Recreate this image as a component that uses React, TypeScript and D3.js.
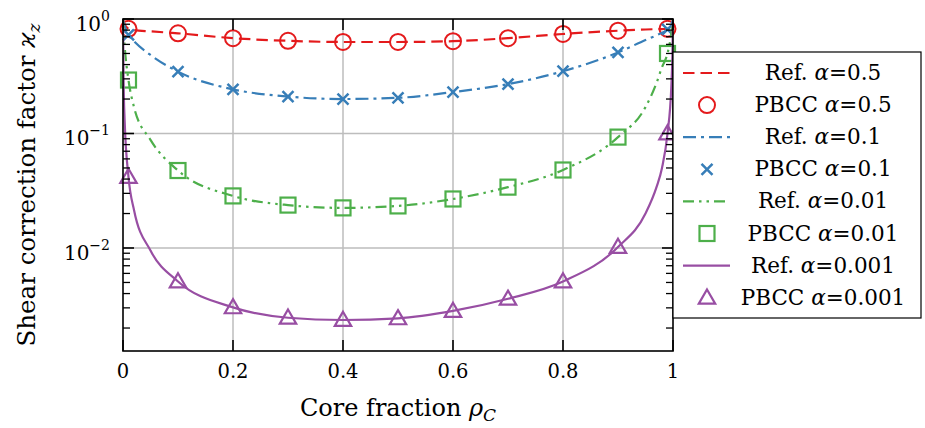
import React from 'react';
import * as d3 from 'd3';

// PBCC sample points
const rhoPts = [0.01, 0.1, 0.2, 0.3, 0.4, 0.5, 0.6, 0.7, 0.8, 0.9, 0.99];
const pbcc05 = [0.82, 0.75, 0.68, 0.645, 0.63, 0.63, 0.64, 0.68, 0.74, 0.79, 0.82];
const pbcc01 = [0.725, 0.347, 0.243, 0.21, 0.2, 0.205, 0.23, 0.27, 0.35, 0.51, 0.81];
const pbcc001 = [0.293, 0.0475, 0.0285, 0.0237, 0.0224, 0.0233, 0.0268, 0.034, 0.048, 0.093, 0.5];
const pbcc0001 = [0.0417, 0.0051, 0.00303, 0.00246, 0.00235, 0.00243, 0.00282, 0.0036, 0.0051, 0.0102, 0.1];

// reference curves
const rhoRef = [0, 0.001, 0.003, 0.01, 0.02, 0.05, 0.1, 0.2, 0.3, 0.4, 0.5, 0.6, 0.7, 0.8, 0.9, 0.95, 0.97, 0.98, 0.99, 0.997, 0.999, 1];
const ref05 = [1, 0.96, 0.9, 0.82, 0.8, 0.78, 0.75, 0.68, 0.645, 0.63, 0.63, 0.64, 0.68, 0.74, 0.79, 0.81, 0.815, 0.817, 0.82, 0.88, 0.94, 1];
const ref01 = [1, 0.94, 0.87, 0.725, 0.64, 0.485, 0.347, 0.243, 0.21, 0.2, 0.205, 0.23, 0.27, 0.35, 0.51, 0.655, 0.72, 0.76, 0.81, 0.9, 0.96, 1];
const ref001 = [1, 0.8, 0.58, 0.293, 0.17, 0.088, 0.0475, 0.0285, 0.0237, 0.0224, 0.0233, 0.0268, 0.034, 0.048, 0.093, 0.17, 0.276, 0.38, 0.5, 0.75, 0.9, 1];
const ref0001 = [1, 0.3, 0.13, 0.0417, 0.0215, 0.0095, 0.0051, 0.00303, 0.00246, 0.00235, 0.00243, 0.00282, 0.0036, 0.0051, 0.0102, 0.02, 0.034, 0.05, 0.1, 0.26, 0.5, 1];

const alphas = ['0.5', '0.1', '0.01', '0.001'];
const refSeries = [ref05, ref01, ref001, ref0001];
const pbccSeries = [pbcc05, pbcc01, pbcc001, pbcc0001];

const xTicks = [0, 0.2, 0.4, 0.6, 0.8, 1];
const xTickLabels = ['0', '0.2', '0.4', '0.6', '0.8', '1'];
const yTicks = [1, 0.1, 0.01];
const yTickExps = ['0', '\u22121', '\u22122'];

const colors = ['#e41a1c', '#377eb8', '#4daf4a', '#984ea3'];
const dashes = ['11.5,6', '13,5,3,5', '11,5,2.5,5,2.5,5', null];
const markers = ['circle', 'x', 'square', 'triangle'];

const W = 925, H = 428;
const left = 123, right = 673, top = 19, bottom = 351;
const font = "'DejaVu Serif', serif";

const Marker = ({ kind, cx, cy, color }) => {
    const sw = 2;
    if (kind === 'circle') return <circle cx={cx} cy={cy} r={8} fill="none" stroke={color} strokeWidth={sw} />;
    if (kind === 'x') {
        const s = 5.5;
        return <path d={`M${cx - s},${cy - s}L${cx + s},${cy + s}M${cx - s},${cy + s}L${cx + s},${cy - s}`} stroke={color} strokeWidth={2.5} />;
    }
    if (kind === 'square') return <rect x={cx - 7.5} y={cy - 7.5} width={15} height={15} fill="none" stroke={color} strokeWidth={2.2} />;
    const s = 8.2;
    return <path d={`M${cx},${cy - s}L${cx + s},${cy + s * 0.72}L${cx - s},${cy + s * 0.72}Z`} fill="none" stroke={color} strokeWidth={2.2} strokeLinejoin="miter" />;
};

export default function App() {
    const x = d3.scaleLinear().domain([0, 1]).range([left, right]);
    const y = d3.scaleLog().domain([0.00126, 1]).range([bottom, top]);

    const lineGen = d3.line<number>()
        .x((d, i) => x(rhoRef[i]))
        .y(d => y(d))
        .curve(d3.curveMonotoneX);

    const minor = y.ticks().filter(t => !yTicks.some(m => Math.abs(m - t) < 1e-9));

    const legendRows = [];
    alphas.forEach((a, i) => {
        legendRows.push({ type: 'ref', i, label: 'Ref.', a });
        legendRows.push({ type: 'pbcc', i, label: 'PBCC', a });
    });

    return (
        <svg width={W} height={H} style={{ position: 'absolute', left: 0, top: 0, background: 'white', fontFamily: font }}>
            <defs>
                <clipPath id="plotclip">
                    <rect x={left} y={top} width={right - left} height={bottom - top} />
                </clipPath>
            </defs>
            {/* grid */}
            {xTicks.slice(1, -1).map(t => (
                <line key={'gx' + t} x1={x(t)} x2={x(t)} y1={top} y2={bottom} stroke="#bdbdbd" strokeWidth={1.5} />
            ))}
            {yTicks.slice(1).map(t => (
                <line key={'gy' + t} x1={left} x2={right} y1={y(t)} y2={y(t)} stroke="#bdbdbd" strokeWidth={1.5} />
            ))}

            {/* series */}
            {alphas.map((a, i) => (
                <g key={'s' + a}>
                    <path d={lineGen(refSeries[i])} fill="none" stroke={colors[i]} strokeWidth={2.2}
                        strokeDasharray={dashes[i] || undefined} clipPath="url(#plotclip)" />
                    {pbccSeries[i].map((v, j) => (
                        <Marker key={j} kind={markers[i]} cx={x(rhoPts[j])} cy={y(v)} color={colors[i]} />
                    ))}
                </g>
            ))}

            {/* spines */}
            <rect x={left} y={top} width={right - left} height={bottom - top} fill="none" stroke="black" strokeWidth={1.6} />

            {/* x ticks */}
            {xTicks.map((t, i) => (
                <g key={'xt' + t}>
                    <line x1={x(t)} x2={x(t)} y1={bottom} y2={bottom - 11} stroke="black" strokeWidth={1.6} />
                    <line x1={x(t)} x2={x(t)} y1={top} y2={top + 11} stroke="black" strokeWidth={1.6} />
                    <text x={x(t)} y={378} textAnchor="middle" fontSize={19.5}>{xTickLabels[i]}</text>
                </g>
            ))}
            {/* y ticks */}
            {yTicks.map((t, i) => (
                <g key={'yt' + t}>
                    <line x1={left} x2={left + 11} y1={y(t)} y2={y(t)} stroke="black" strokeWidth={1.6} />
                    <line x1={right} x2={right - 11} y1={y(t)} y2={y(t)} stroke="black" strokeWidth={1.6} />
                    <text x={110} y={y(t) + 12} textAnchor="end" fontSize={20}>
                        10<tspan dy={-10} fontSize={14}>{yTickExps[i]}</tspan>
                    </text>
                </g>
            ))}
            {minor.map(t => (
                <g key={'ym' + t}>
                    <line x1={left} x2={left + 7} y1={y(t)} y2={y(t)} stroke="black" strokeWidth={1.3} />
                    <line x1={right} x2={right - 7} y1={y(t)} y2={y(t)} stroke="black" strokeWidth={1.3} />
                </g>
            ))}

            {/* axis labels */}
            <text x={398} y={416} textAnchor="middle" fontSize={24}>
                Core fraction <tspan fontStyle="italic">ρ</tspan><tspan fontStyle="italic" fontSize={17} dy={5}>C</tspan>
            </text>
            <text transform="translate(35,185) rotate(-90)" textAnchor="middle" fontSize={24.5}>
                Shear correction factor <tspan fontStyle="italic">ϰ</tspan><tspan fontStyle="italic" fontSize={17} dy={5}>z</tspan>
            </text>

            {/* legend */}
            <g>
                <rect x={673} y={52} width={248} height={266} fill="white" stroke="black" strokeWidth={1.2} />
                {legendRows.map((r, k) => {
                    const cy = 73 + k * 32.1;
                    const c = colors[r.i];
                    return (
                        <g key={'lg' + k}>
                            {r.type === 'ref'
                                ? <line x1={683} x2={730} y1={cy} y2={cy} stroke={c} strokeWidth={2.2} strokeDasharray={dashes[r.i] || undefined} />
                                : <Marker kind={markers[r.i]} cx={707} cy={cy} color={c} />}
                            <text x={823} y={cy + 7} textAnchor="middle" fontSize={21.5}>
                                {r.label} <tspan fontStyle="italic">α</tspan>={r.a}
                            </text>
                        </g>
                    );
                })}
            </g>
        </svg>
    );
}
